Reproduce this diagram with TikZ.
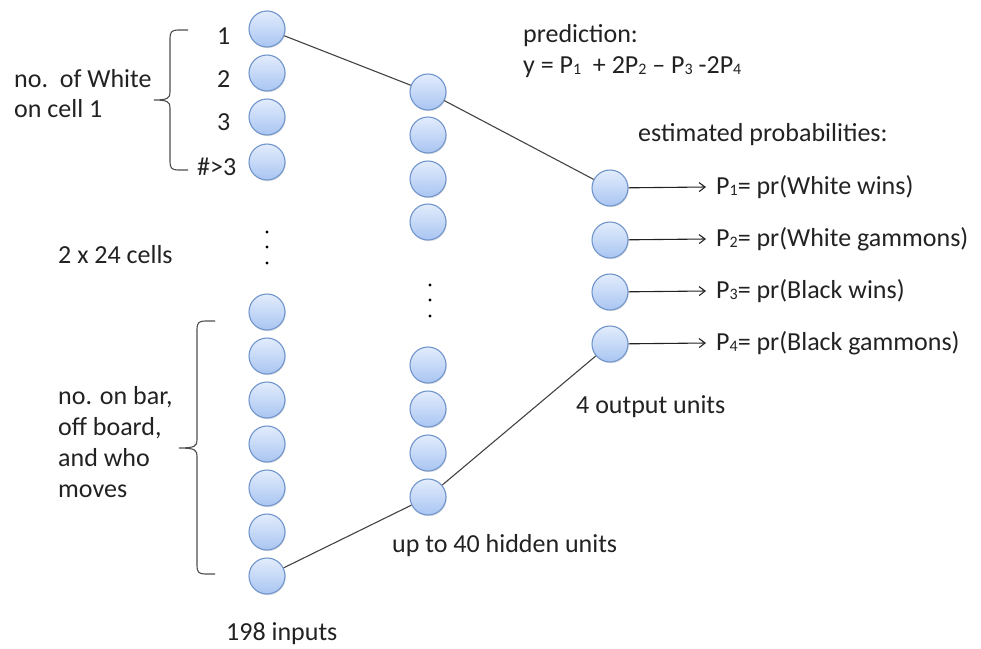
\documentclass[tikz,border=0pt]{standalone}
\usepackage{fontspec}
\setmainfont{Carlito}
\usetikzlibrary{arrows.meta,shadows}

\definecolor{unitedge}{HTML}{6F95CC}
\definecolor{unittop}{HTML}{E2ECFC}
\definecolor{unitbot}{HTML}{A9C5F2}
\definecolor{ink}{HTML}{222222}

% small index digit set close to the baseline
\newcommand{\sbs}[1]{\raisebox{-1.5pt}{\fontsize{16}{16}\selectfont #1}}

\begin{document}
\begin{tikzpicture}[x=1pt,y=-1pt,
  unit/.style={circle, minimum size=36pt, inner sep=0pt, draw=unitedge,
    line width=1.1pt, top color=unittop, bottom color=unitbot,
    drop shadow={shadow xshift=0.8pt, shadow yshift=-1.2pt, opacity=0.25}},
  lbl/.style={anchor=base west, inner sep=0pt, text=ink, font=\fontsize{26}{30}\selectfont},
  wire/.style={draw=ink!85, line width=1.1pt},
  outarrow/.style={draw=ink, line width=1.1pt, -{Straight Barb[length=6pt,width=9pt]}},
  brace/.style={draw=ink!80, line width=1.1pt},
  dot/.style={fill=black, circle, inner sep=0pt, minimum size=3.2pt}]

\useasboundingbox (0,0) rectangle (981,648);

% input column
\foreach \y [count=\i] in {29,73,117,162}
  \node[unit] (in\i) at (267,\y) {};
\foreach \y [count=\i] in {312,356,400,444,488,532,576}
  \node[unit] (inb\i) at (267,\y) {};
\foreach \y [count=\i] in {232,247,263}
  \node[dot] (ind\i) at (267,\y) {};

% hidden column
\foreach \y [count=\i] in {92,135,179,222}
  \node[unit] (hid\i) at (428,\y) {};
\foreach \y [count=\i] in {365,409,453,497}
  \node[unit] (hidb\i) at (428,\y) {};
\foreach \y [count=\i] in {285,300,316}
  \node[dot] (hidd\i) at (430,\y) {};

% output column
\foreach \y [count=\i] in {188,240,292,344}
  \node[unit] (out\i) at (610,\y) {};

% connections
\draw[wire] (in1) -- (hid1);
\draw[wire] (hid1) -- (out1);
\draw[wire] (inb7) -- (hidb4);
\draw[wire] (hidb4) -- (out4);

% output labels
\node[lbl, anchor=west] (pl1) at (716,187) {P\sbs{1}= pr(White wins)};
\node[lbl, anchor=west] (pl2) at (716,239) {P\sbs{2}= pr(White gammons)};
\node[lbl, anchor=west] (pl3) at (716,291) {P\sbs{3}= pr(Black wins)};
\node[lbl, anchor=west] (pl4) at (716,343) {P\sbs{4}= pr(Black gammons)};
\foreach \i in {1,2,3,4}
  \draw[outarrow] (out\i) -- ([xshift=-10pt]pl\i.west);

% input index labels
\node[lbl] (n1) at (217,44) {1};
\node[lbl] (n2) at (217,87) {2};
\node[lbl] (n3) at (217,130) {3};
\node[lbl] (n4) at (197,175) {\#>3};

% braces
\draw[brace] (188,30) -- (178,30) .. controls (172,30) and (170,32) .. (170,38)
  -- (170,92) .. controls (170,98) and (168,100) .. (154,100)
  .. controls (168,100) and (170,102) .. (170,108)
  -- (170,162) .. controls (170,168) and (172,170) .. (178,170) -- (188,170);
\draw[brace] (215,321) -- (205,321) .. controls (199,321) and (197,323) .. (197,329)
  -- (197,440) .. controls (197,446) and (195,448) .. (179,448)
  .. controls (195,448) and (197,450) .. (197,456)
  -- (197,566) .. controls (197,572) and (199,574) .. (205,574) -- (215,574);

% annotations
\node[lbl] (w1) at (14,87) {no.\ \ of White};
\node[lbl] (w2) at (14,117) {on cell 1};
\node[lbl] (cells) at (58,263) {2 x 24 cells};
\node[lbl] (b1) at (58,404) {no. on bar,};
\node[lbl] (b2) at (58,435) {off board,};
\node[lbl] (b3) at (58,466) {and who};
\node[lbl] (b4) at (58,497) {moves};
\node[lbl] (inputs) at (226,640) {198 inputs};
\node[lbl] (hidden) at (392,552) {up to 40 hidden units};
\node[lbl] (outputs) at (576,413) {4 output units};
\node[lbl] (pred1) at (523,42) {prediction:};
\node[lbl] (pred2) at (523,73) {y = P\sbs{1}\ \ + 2P\sbs{2} -- P\sbs{3} -2P\sbs{4}};
\node[lbl] (est) at (638,141) {estimated probabilities:};

\end{tikzpicture}
\end{document}
